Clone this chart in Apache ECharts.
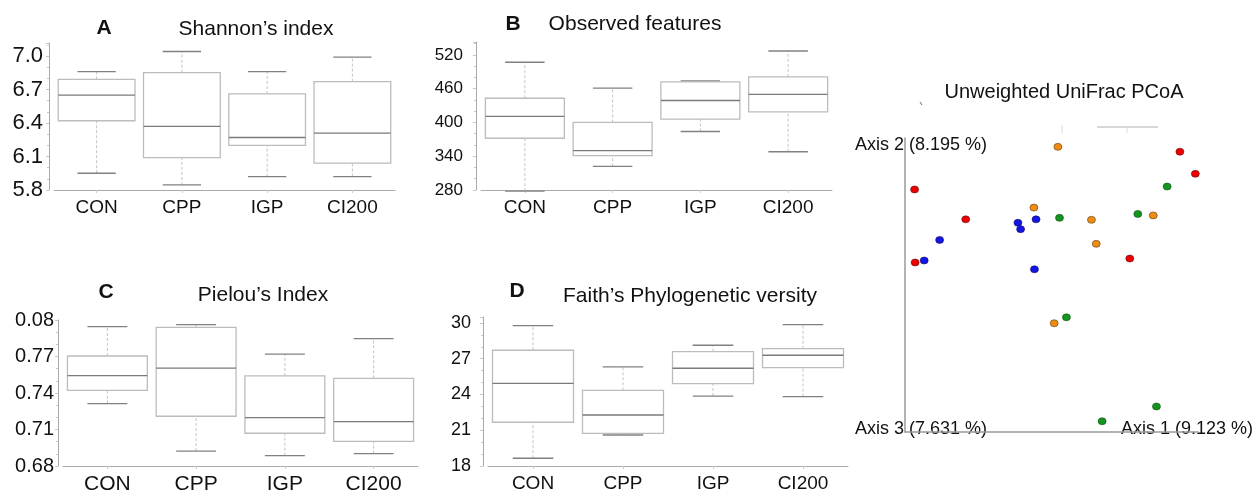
<!DOCTYPE html>
<html>
<head>
<meta charset="utf-8">
<script src="https://cdn.jsdelivr.net/npm/echarts@6.0.0/dist/echarts.min.js"></script>
<style>
  html, body { margin: 0; padding: 0; background: #fff; }
  #chart { width: 1258px; height: 493px; }
</style>
</head>
<body>
<div id="chart"></div>
<script>
// groups on the x axis of the four box plots
var groups = ['CON', 'CPP', 'IGP', 'CI200'];

// box values per group: [min, Q1, median, Q3, max]
var shannon = [
  [5.95, 6.42, 6.65, 6.79, 6.86],
  [5.845, 6.09, 6.37, 6.85, 7.04],
  [5.92, 6.20, 6.27, 6.66, 6.86],
  [5.92, 6.04, 6.31, 6.77, 6.99]
];
var observed = [
  [278, 372, 411, 443, 507],
  [322, 341, 350, 400, 461],
  [384, 406, 439, 472, 474],
  [348, 419, 450, 481, 527]
];
var pielou = [
  [0.7313, 0.7422, 0.7543, 0.7704, 0.7946],
  [0.6923, 0.7209, 0.7605, 0.7940, 0.7962],
  [0.6885, 0.7069, 0.7198, 0.7540, 0.7720],
  [0.6902, 0.7003, 0.7165, 0.7521, 0.7847]
];
var faith = [
  [18.65, 21.67, 24.94, 27.71, 29.77],
  [20.60, 20.74, 22.28, 24.35, 26.31],
  [23.87, 24.91, 26.20, 27.59, 28.13],
  [23.82, 26.25, 27.29, 27.84, 29.86]
];

// tick labels (as printed in the figure)
var shannonTicks = ['5.8', '6.1', '6.4', '6.7', '7.0'];
var observedTicks = ['280', '340', '400', '460', '520'];
var pielouTicks = ['0.68', '0.71', '0.74', '0.77', '0.08'];
var faithTicks = ['18', '21', '24', '27', '30'];

// PCoA coordinates [axis1, axis2] by colour group
var pcoaRed = [[-0.282, 0.195], [-0.186, 0.134], [0.216, 0.272], [0.245, 0.227], [0.122, 0.054], [-0.281, 0.046]];
var pcoaBlue = [[-0.054, 0.134], [-0.088, 0.127], [-0.083, 0.114], [-0.235, 0.092], [-0.264, 0.050], [-0.057, 0.032]];
var pcoaOrange = [[-0.013, 0.282], [-0.058, 0.158], [0.050, 0.133], [0.166, 0.142], [0.059, 0.084], [-0.020, -0.078]];
var pcoaGreen = [[0.192, 0.201], [-0.010, 0.137], [0.137, 0.145], [0.003, -0.066], [0.172, -0.248], [0.070, -0.278]];

var FONT = '"Liberation Sans", Arial, sans-serif';

// draws one box (whiskers, box, median) through the axis scales
function renderBox(params, api) {
  var x = api.value(0);
  var lo = api.coord([x, api.value(1)]);
  var q1 = api.coord([x, api.value(2)]);
  var md = api.coord([x, api.value(3)]);
  var q3 = api.coord([x, api.value(4)]);
  var hi = api.coord([x, api.value(5)]);
  var band = api.size([1, 0])[0];
  var w = band * 0.9;
  var cw = w * 0.5;
  var cx = md[0];
  return {
    type: 'group',
    children: [
      { type: 'line', shape: { x1: cx, y1: q3[1], x2: cx, y2: hi[1] }, style: { stroke: '#c4c4c4', lineWidth: 1, lineDash: [3, 2] } },
      { type: 'line', shape: { x1: cx, y1: lo[1], x2: cx, y2: q1[1] }, style: { stroke: '#c4c4c4', lineWidth: 1, lineDash: [3, 2] } },
      { type: 'line', shape: { x1: cx - cw / 2, y1: hi[1], x2: cx + cw / 2, y2: hi[1] }, style: { stroke: '#808080', lineWidth: 1.3 } },
      { type: 'line', shape: { x1: cx - cw / 2, y1: lo[1], x2: cx + cw / 2, y2: lo[1] }, style: { stroke: '#808080', lineWidth: 1.3 } },
      { type: 'rect', shape: { x: cx - w / 2, y: q3[1], width: w, height: q1[1] - q3[1] }, style: { fill: '#fff', stroke: '#bcbcbc', lineWidth: 1.3 } },
      { type: 'line', shape: { x1: cx - w / 2, y1: md[1], x2: cx + w / 2, y2: md[1] }, style: { stroke: '#7a7a7a', lineWidth: 1.3 } }
    ]
  };
}

function boxData(arr) {
  return arr.map(function (d, i) { return [i].concat(d); });
}

function catAxis(idx, size) {
  return {
    gridIndex: idx,
    type: 'category',
    data: groups,
    axisLine: { lineStyle: { color: '#aaa', width: 1 } },
    axisTick: { show: true, alignWithLabel: true, length: 3, lineStyle: { color: '#ccc' } },
    axisLabel: { color: '#111', fontSize: size, fontFamily: FONT, margin: 8 },
    splitLine: { show: false }
  };
}

function valAxis(idx, min, max, interval, ticks, size, margin) {
  return {
    gridIndex: idx,
    type: 'value',
    min: min,
    max: max,
    interval: interval,
    offset: 5,
    axisLine: { show: true, lineStyle: { color: '#aaa', width: 1 } },
    axisTick: { show: true, length: 3, lineStyle: { color: '#c8c8c8' } },
    minorTick: { show: true, splitNumber: 3, length: 2, lineStyle: { color: '#c8c8c8' } },
    splitLine: { show: false },
    axisLabel: {
      color: '#111', fontSize: size, fontFamily: FONT, margin: margin,
      formatter: function (v, i) { return ticks[i] || ''; }
    }
  };
}

function label(x, y, text, font) {
  return {
    type: 'text', x: x, y: y,
    style: { text: text, font: font, fill: '#111', align: 'center', verticalAlign: 'middle' }
  };
}

var myChart = echarts.init(document.getElementById('chart'));
myChart.setOption({
  animation: false,
  grid: [
    { left: 54, top: 43, width: 341, height: 147, outerBoundsMode: 'none' },
    { left: 481, top: 42, width: 351, height: 148, outerBoundsMode: 'none' },
    { left: 63, top: 320, width: 355, height: 146, outerBoundsMode: 'none' },
    { left: 488, top: 317, width: 360, height: 149, outerBoundsMode: 'none' },
    { left: 905, top: 138, width: 293, height: 294, outerBoundsMode: 'none' }
  ],
  xAxis: [
    catAxis(0, 19),
    catAxis(1, 19),
    catAxis(2, 21),
    catAxis(3, 19),
    { gridIndex: 4, type: 'value', min: -0.3, max: 0.25, axisLine: { onZero: false, lineStyle: { color: '#9a9a9a', width: 1.5 } }, axisTick: { show: false }, axisLabel: { show: false }, splitLine: { show: false } }
  ],
  yAxis: [
    valAxis(0, 5.8, 7.116, 0.3, shannonTicks, 22, 6),
    valAxis(1, 280, 543, 60, observedTicks, 17, 13),
    valAxis(2, 0.68, 0.80, 0.03, pielouTicks, 20, 4),
    valAxis(3, 18, 30.5, 3, faithTicks, 18, 12),
    { gridIndex: 4, type: 'value', min: -0.3, max: 0.3, axisLine: { show: true, onZero: false, lineStyle: { color: '#9a9a9a', width: 1.5 } }, axisTick: { show: false }, axisLabel: { show: false }, splitLine: { show: false } }
  ],
  series: [
    { type: 'custom', xAxisIndex: 0, yAxisIndex: 0, renderItem: renderBox, data: boxData(shannon), encode: { x: 0, y: [1, 2, 3, 4, 5] } },
    { type: 'custom', xAxisIndex: 1, yAxisIndex: 1, renderItem: renderBox, data: boxData(observed), encode: { x: 0, y: [1, 2, 3, 4, 5] } },
    { type: 'custom', xAxisIndex: 2, yAxisIndex: 2, renderItem: renderBox, data: boxData(pielou), encode: { x: 0, y: [1, 2, 3, 4, 5] } },
    { type: 'custom', xAxisIndex: 3, yAxisIndex: 3, renderItem: renderBox, data: boxData(faith), encode: { x: 0, y: [1, 2, 3, 4, 5] } },
    { type: 'scatter', name: 'red', xAxisIndex: 4, yAxisIndex: 4, clip: false, data: pcoaRed, symbolSize: [8, 7], itemStyle: { color: '#ee0000', borderColor: '#5a1010', borderWidth: 0.6, opacity: 1 } },
    { type: 'scatter', name: 'blue', xAxisIndex: 4, yAxisIndex: 4, clip: false, data: pcoaBlue, symbolSize: [8, 7], itemStyle: { color: '#1414e6', borderColor: '#10105a', borderWidth: 0.6, opacity: 1 } },
    { type: 'scatter', name: 'orange', xAxisIndex: 4, yAxisIndex: 4, clip: false, data: pcoaOrange, symbolSize: [8, 7], itemStyle: { color: '#f08c14', borderColor: '#5a3a10', borderWidth: 0.6, opacity: 1 } },
    { type: 'scatter', name: 'green', xAxisIndex: 4, yAxisIndex: 4, clip: false, data: pcoaGreen, symbolSize: [8, 7], itemStyle: { color: '#14961e', borderColor: '#104a10', borderWidth: 0.6, opacity: 1 } }
  ],
  graphic: [
    label(104, 28, 'A', 'bold 21px ' + FONT),
    label(256, 29, 'Shannon\u2019s index', '21px ' + FONT),
    label(513, 24, 'B', 'bold 21px ' + FONT),
    label(635, 24, 'Observed features', '21px ' + FONT),
    label(106, 292, 'C', 'bold 21px ' + FONT),
    label(263, 295, 'Pielou\u2019s Index', '21px ' + FONT),
    label(517, 291, 'D', 'bold 21px ' + FONT),
    label(690, 296, 'Faith\u2019s Phylogenetic versity', '21px ' + FONT),
    label(1064, 92, 'Unweighted UniFrac PCoA', '20px ' + FONT),
    label(921, 145, 'Axis 2 (8.195 %)', '18px ' + FONT),
    label(921, 429, 'Axis 3 (7.631 %)', '18px ' + FONT),
    label(1187, 429, 'Axis 1 (9.123 %)', '18px ' + FONT),
    // faint remains of the third axis at the top of the PCoA plot
    { type: 'line', shape: { x1: 1097, y1: 127, x2: 1158, y2: 127 }, style: { stroke: '#b0b0b0', lineWidth: 1 } },
    { type: 'line', shape: { x1: 1062, y1: 125, x2: 1062, y2: 133 }, style: { stroke: '#d8d8d8', lineWidth: 1 } },
    { type: 'line', shape: { x1: 1127, y1: 127, x2: 1127, y2: 133 }, style: { stroke: '#dcdcdc', lineWidth: 1 } },
    { type: 'line', shape: { x1: 920, y1: 102, x2: 922, y2: 105 }, style: { stroke: '#666', lineWidth: 1 } }
  ]
});
window.addEventListener('resize', function () {
  myChart.resize();
});
</script>
</body>
</html>
